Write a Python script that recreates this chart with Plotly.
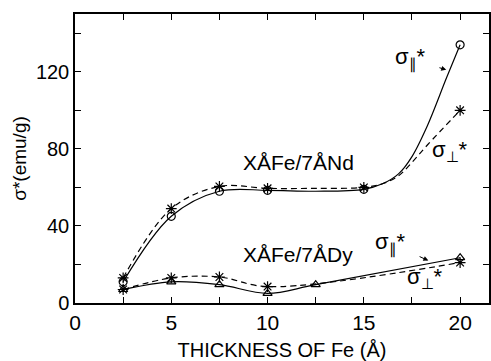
import plotly.graph_objects as go

# --- data ---
thickness_nd = [2.5, 5, 7.5, 10, 15, 20]
nd_par = [11, 45, 58, 58.5, 59, 134]      # sigma parallel (circles)
nd_perp = [13, 49, 60.5, 59.5, 60, 100]   # sigma perpendicular (stars)
# points
nd_par_curve_x = [2.5, 5, 7.5, 10, 12.5, 15, 16, 16.8, 17.5, 18.3, 19.3, 20]
nd_par_curve_y = [11, 45, 58, 58.5, 58, 59, 62, 67, 76, 92, 117, 134]
nd_perp_curve_x = [2.5, 5, 7.5, 10, 12.5, 15, 16, 16.8, 17.5, 18.3, 20]
nd_perp_curve_y = [13, 49, 60.5, 59.5, 59.5, 60, 62, 66, 73, 82, 100]

thickness_dy_par = [2.5, 5, 7.5, 10, 12.5, 20]
dy_par = [7, 11, 9.5, 5, 9.5, 23.5]       # triangles
thickness_dy_perp = [2.5, 5, 7.5, 10, 20]
dy_perp = [7, 13, 13.5, 8.5, 21]          # stars

FONT = "Liberation Sans"
LW = 1.2

fig = go.Figure()

# Nd curves
fig.add_trace(go.Scatter(x=nd_par_curve_x, y=nd_par_curve_y, mode="lines",
                         line=dict(color="black", width=LW, shape="spline"),
                         showlegend=False, hoverinfo="skip"))
fig.add_trace(go.Scatter(x=nd_perp_curve_x, y=nd_perp_curve_y, mode="lines",
                         line=dict(color="black", width=LW, shape="spline", dash="6px,4px"),
                         showlegend=False, hoverinfo="skip"))
fig.add_trace(go.Scatter(x=thickness_nd, y=nd_par, mode="markers",
                         marker=dict(symbol="circle-open", size=8, color="black",
                                     line=dict(width=1.2)),
                         showlegend=False))
fig.add_trace(go.Scatter(x=thickness_nd, y=nd_perp, mode="markers",
                         marker=dict(symbol="asterisk-open", size=9, color="black",
                                     line=dict(width=1.2)),
                         showlegend=False))

# Dy curves
fig.add_trace(go.Scatter(x=thickness_dy_par, y=dy_par, mode="lines+markers",
                         line=dict(color="black", width=LW, shape="spline"),
                         marker=dict(symbol="triangle-up-open", size=8, color="black",
                                     line=dict(width=1.2)),
                         showlegend=False))
fig.add_trace(go.Scatter(x=thickness_dy_perp, y=dy_perp, mode="lines+markers",
                         line=dict(color="black", width=LW, shape="spline", dash="6px,4px"),
                         marker=dict(symbol="asterisk-open", size=9, color="black",
                                     line=dict(width=1.2)),
                         showlegend=False))

tfont = dict(family=FONT, size=21, color="black")
sfont = dict(family=FONT, size=22, color="black")

anns = [
    dict(x=11.6, y=73, text="XÅFe/7ÅNd", showarrow=False, font=tfont),
    dict(x=11.6, y=25, text="XÅFe/7ÅDy", showarrow=False, font=tfont),
    # Nd labels
    dict(x=19.28, y=121, ax=17.4, ay=127, axref="x", ayref="y",
         text="σ<sub>∥</sub>*", showarrow=True, arrowhead=2, arrowsize=1,
         arrowwidth=1, arrowcolor="black", standoff=0, startstandoff=13, font=sfont),
    dict(x=19.5, y=79, text="σ<sub>⊥</sub>*", showarrow=False, font=sfont),
    # Dy labels
    dict(x=18.35, y=22, ax=16.4, ay=31, axref="x", ayref="y",
         text="σ<sub>∥</sub>*", showarrow=True, arrowhead=2, arrowsize=1,
         arrowwidth=1, arrowcolor="black", standoff=0, startstandoff=13, font=sfont),
    dict(x=18.2, y=13, text="σ<sub>⊥</sub>*", showarrow=False, font=sfont),
]

fig.update_layout(
    width=491, height=361,
    margin=dict(l=75, r=0, t=14, b=58),
    paper_bgcolor="white", plot_bgcolor="white",
    font=dict(family=FONT, size=20, color="black"),
    annotations=anns,
    xaxis=dict(range=[0, 21.5], tick0=0, dtick=5,
               ticks="inside", ticklen=6, tickwidth=1.2, tickcolor="black",
               minor=dict(tick0=0, dtick=2.5, ticks="inside", ticklen=6,
                          tickwidth=1.2, tickcolor="black", showgrid=False),
               showline=True, linecolor="black", linewidth=1.5, mirror="ticks",
               showgrid=False, zeroline=False,
               tickfont=dict(family=FONT, size=21),
               title=dict(text="THICKNESS OF Fe (Å)", font=dict(family=FONT, size=20),
                          standoff=11)),
    yaxis=dict(range=[0, 150], tick0=0, dtick=40,
               ticks="inside", ticklen=6, tickwidth=1.2, tickcolor="black",
               minor=dict(tick0=0, dtick=20, ticks="inside", ticklen=6,
                          tickwidth=1.2, tickcolor="black", showgrid=False),
               showline=True, linecolor="black", linewidth=1.5, mirror="ticks",
               showgrid=False, zeroline=False,
               tickfont=dict(family=FONT, size=20),
               title=dict(text="σ*(emu/g)", font=dict(family=FONT, size=19),
                          standoff=4)),
)

fig.write_html("out.html")
